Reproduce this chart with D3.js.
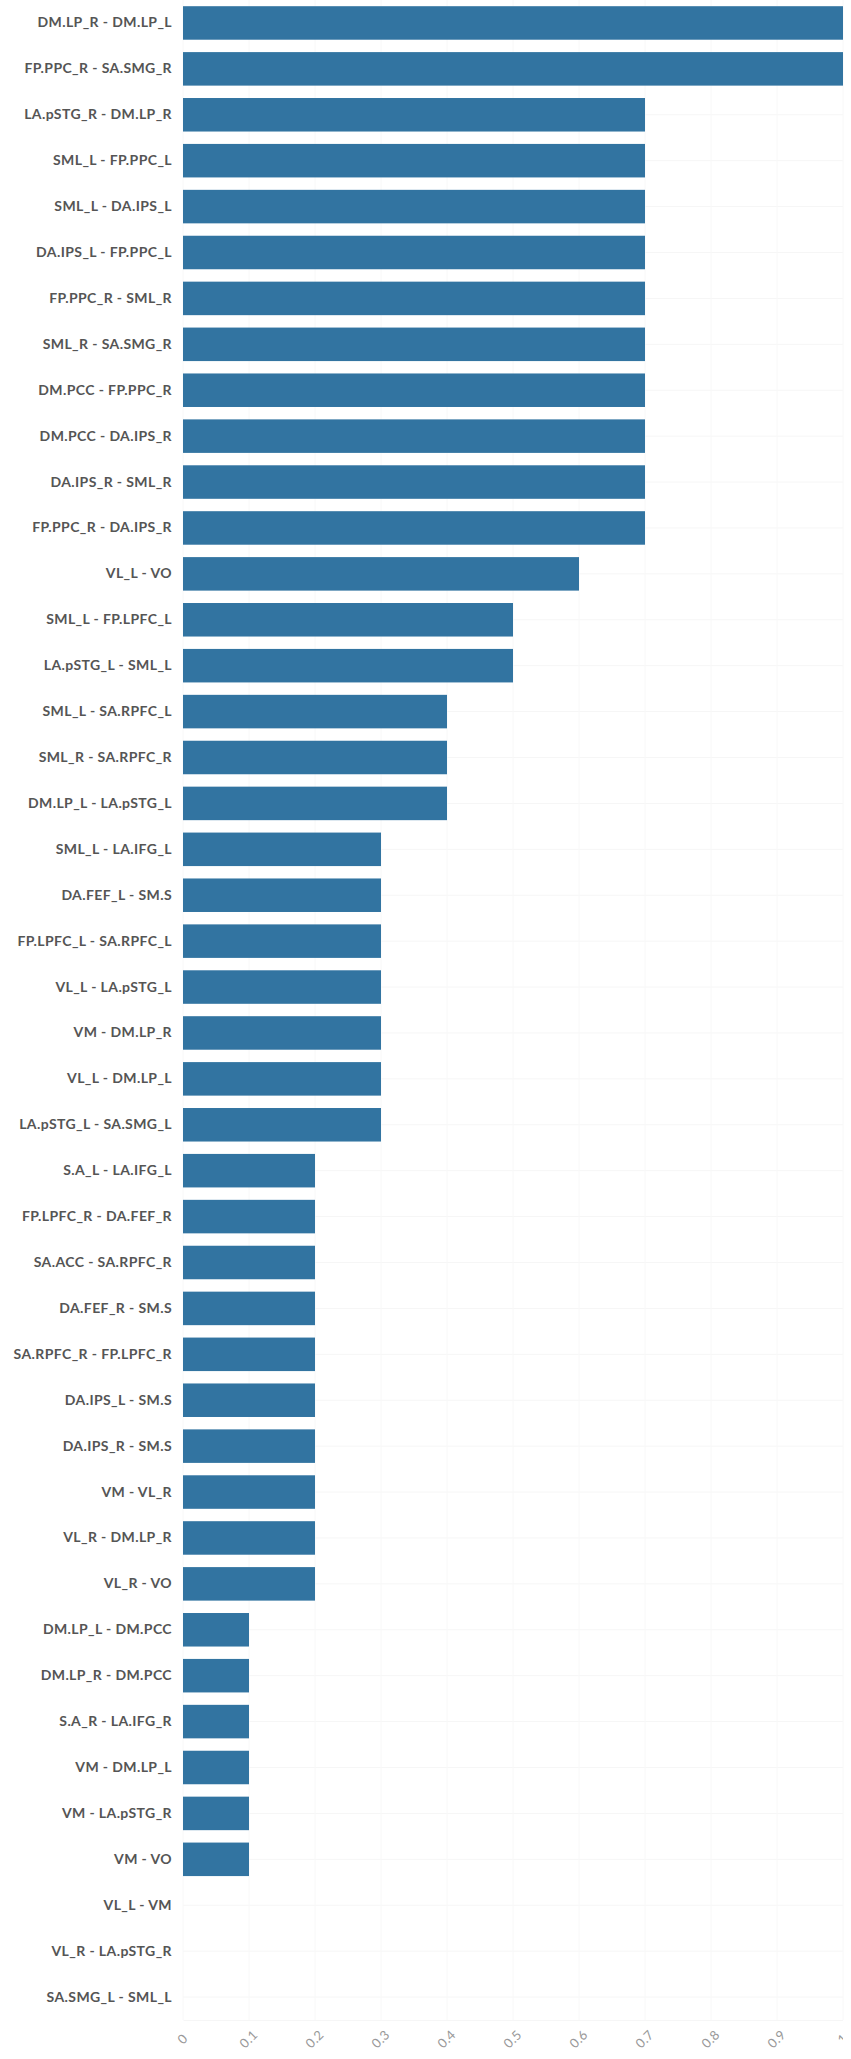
<!DOCTYPE html>
<html>
<head>
<meta charset="utf-8">
<script src="https://cdn.jsdelivr.net/npm/d3@7"></script>
<style>
  html, body { margin: 0; padding: 0; background: #fff; }
  svg { display: block; }
</style>
</head>
<body>
<div id="chart"></div>
<script>
// connection pairs, top to bottom
const pairs = [
    "DM.LP_R - DM.LP_L", "FP.PPC_R - SA.SMG_R", "LA.pSTG_R - DM.LP_R", "SML_L - FP.PPC_L",
    "SML_L - DA.IPS_L", "DA.IPS_L - FP.PPC_L", "FP.PPC_R - SML_R", "SML_R - SA.SMG_R",
    "DM.PCC - FP.PPC_R", "DM.PCC - DA.IPS_R", "DA.IPS_R - SML_R", "FP.PPC_R - DA.IPS_R",
    "VL_L - VO", "SML_L - FP.LPFC_L", "LA.pSTG_L - SML_L", "SML_L - SA.RPFC_L",
    "SML_R - SA.RPFC_R", "DM.LP_L - LA.pSTG_L", "SML_L - LA.IFG_L", "DA.FEF_L - SM.S",
    "FP.LPFC_L - SA.RPFC_L", "VL_L - LA.pSTG_L", "VM - DM.LP_R", "VL_L - DM.LP_L",
    "LA.pSTG_L - SA.SMG_L", "S.A_L - LA.IFG_L", "FP.LPFC_R - DA.FEF_R", "SA.ACC - SA.RPFC_R",
    "DA.FEF_R - SM.S", "SA.RPFC_R - FP.LPFC_R", "DA.IPS_L - SM.S", "DA.IPS_R - SM.S",
    "VM - VL_R", "VL_R - DM.LP_R", "VL_R - VO", "DM.LP_L - DM.PCC",
    "DM.LP_R - DM.PCC", "S.A_R - LA.IFG_R", "VM - DM.LP_L", "VM - LA.pSTG_R",
    "VM - VO", "VL_L - VM", "VL_R - LA.pSTG_R", "SA.SMG_L - SML_L"
];
const values = [
    1.0, 1.0, 0.7, 0.7,
    0.7, 0.7, 0.7, 0.7,
    0.7, 0.7, 0.7, 0.7,
    0.6, 0.5, 0.5, 0.4,
    0.4, 0.4, 0.3, 0.3,
    0.3, 0.3, 0.3, 0.3,
    0.3, 0.2, 0.2, 0.2,
    0.2, 0.2, 0.2, 0.2,
    0.2, 0.2, 0.2, 0.1,
    0.1, 0.1, 0.1, 0.1,
    0.1, 0, 0, 0
];
const xTicks = [0, 0.1, 0.2, 0.3, 0.4, 0.5, 0.6, 0.7, 0.8, 0.9, 1];

const data = pairs.map((p, i) => ({ pair: p, value: values[i] }));

const W = 851, H = 2059;
const margin = { top: 0, right: 8, bottom: 39, left: 183 };
const width = W - margin.left - margin.right;
const height = H - margin.top - margin.bottom;

const svg = d3.select("#chart").append("svg")
    .attr("width", W)
    .attr("height", H);

const g = svg.append("g")
    .attr("transform", `translate(${margin.left},${margin.top})`);

const x = d3.scaleLinear().domain([0, 1]).range([0, width]);
const y = d3.scaleBand().domain(pairs).range([0, height]).paddingInner(0.27).paddingOuter(0.135);

// faint grid
g.append("g").selectAll("line.hg")
    .data(pairs)
    .enter().append("line")
    .attr("x1", 0).attr("x2", width)
    .attr("y1", d => y(d) + y.bandwidth() / 2)
    .attr("y2", d => y(d) + y.bandwidth() / 2)
    .attr("stroke", "#f6f6f6");
g.append("g").selectAll("line.vg")
    .data(xTicks)
    .enter().append("line")
    .attr("x1", d => x(d)).attr("x2", d => x(d))
    .attr("y1", 0).attr("y2", height)
    .attr("stroke", "#f8f8f8");

// bars
g.selectAll(".bar")
    .data(data)
    .enter().append("rect")
    .attr("class", "bar")
    .attr("x", 0)
    .attr("y", d => y(d.pair))
    .attr("width", d => x(d.value))
    .attr("height", y.bandwidth())
    .attr("fill", "#3274a1");

// y labels
const yAxis = g.append("g")
    .call(d3.axisLeft(y).tickSize(0).tickPadding(11));
yAxis.select(".domain").remove();
yAxis.selectAll("text")
    .attr("font-family", "Lato, 'Open Sans', sans-serif")
    .attr("font-weight", "bold")
    .attr("font-size", "14px")
    .attr("letter-spacing", "0.4px")
    .attr("fill", "#555");

// x axis, rotated labels
svg.append("clipPath").attr("id", "clipx")
    .append("rect").attr("x", -margin.left).attr("y", -10).attr("width", W - 8).attr("height", 80);

const xAxis = g.append("g")
    .attr("transform", `translate(0,${height})`)
    .attr("clip-path", "url(#clipx)")
    .call(d3.axisBottom(x).tickValues(xTicks).tickFormat(d3.format("")).tickSize(0).tickPadding(0));
xAxis.select(".domain").attr("stroke", "#f6f6f6");
xAxis.selectAll("text")
    .attr("font-family", "Lato, 'Open Sans', sans-serif")
    .attr("font-size", "13px")
    .attr("letter-spacing", "0.3px")
    .attr("fill", "#999")
    .attr("text-anchor", "middle")
    .attr("dy", null)
    .attr("y", 0)
    .attr("transform", "translate(0,20) rotate(-45)")
    .attr("dominant-baseline", "middle");
</script>
</body>
</html>
